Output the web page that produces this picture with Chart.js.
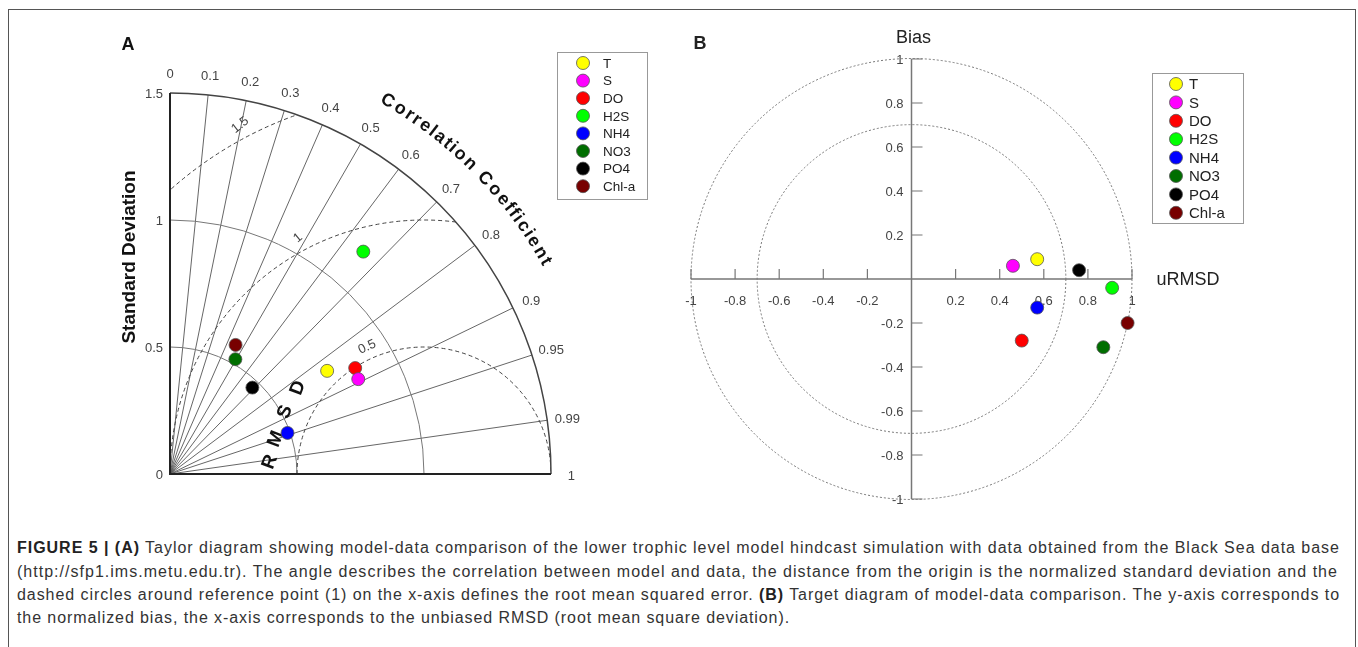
<!DOCTYPE html>
<html>
<head>
<meta charset="utf-8">
<script src="https://cdn.jsdelivr.net/npm/chart.js@4"></script>
<style>
  body { margin: 0; background: #fff; width: 1358px; height: 647px; overflow: hidden; position: relative; font-family: "Liberation Sans", Arial, sans-serif; }
  #frame { position: absolute; left: 8px; top: 9px; width: 1346px; height: 660px; border: 1.5px solid #555; }
  canvas { position: absolute; top: 0; }
  #chartA { left: 0; }
  #chartB { left: 660px; }
  .cap { position: absolute; left: 17px; white-space: nowrap; font-size: 16px; line-height: 18px; color: #333; }
  .cap b { color: #222; }
</style>
</head>
<body>
<div id="frame"></div>
<canvas id="chartA" width="660" height="520"></canvas>
<canvas id="chartB" width="698" height="520"></canvas>
<div class="cap" data-w="1323" style="top:539px"><b>FIGURE 5 | (A)</b> Taylor diagram showing model-data comparison of the lower trophic level model hindcast simulation with data obtained from the Black Sea data base</div>
<div class="cap" data-w="1321" style="top:563px">(http://sfp1.ims.metu.edu.tr). The angle describes the correlation between model and data, the distance from the origin is the normalized standard deviation and the</div>
<div class="cap" data-w="1323" style="top:586px">dashed circles around reference point (1) on the x-axis defines the root mean squared error. <b>(B)</b> Target diagram of model-data comparison. The y-axis corresponds to</div>
<div class="cap" data-w="773" style="top:609px">the normalized bias, the x-axis corresponds to the unbiased RMSD (root mean square deviation).</div>
<script>
// variables shown in both panels
const series = ["T", "S", "DO", "H2S", "NH4", "NO3", "PO4", "Chl-a"];
const colors = ["#ffff00", "#ff00ff", "#ff0000", "#00ff00", "#0000ff", "#006e00", "#000000", "#780000"];

// panel A: normalized standard deviation and correlation
const taylorStd = [0.74, 0.83, 0.84, 1.16, 0.49, 0.52, 0.47, 0.57];
const taylorCorr = [0.836, 0.893, 0.868, 0.656, 0.944, 0.495, 0.69, 0.453];
const stdTicks = [0, 0.5, 1, 1.5];
const corrTicks = [0, 0.1, 0.2, 0.3, 0.4, 0.5, 0.6, 0.7, 0.8, 0.9, 0.95, 0.99, 1];
const rmsTicks = [0.5, 1, 1.5];

// panel B: unbiased RMSD and bias
const targetURMSD = [0.57, 0.46, 0.5, 0.91, 0.57, 0.87, 0.76, 0.98];
const targetBias = [0.09, 0.06, -0.28, -0.04, -0.13, -0.31, 0.04, -0.2];
const targetTicks = [-1, -0.8, -0.6, -0.4, -0.2, 0.2, 0.4, 0.6, 0.8, 1];
const targetCircles = [1, 0.7];

const FONT = '"Liberation Sans", Arial, sans-serif';

// stretch caption lines to the width they have in the figure
document.querySelectorAll(".cap").forEach((el) => {
  const w = el.getBoundingClientRect().width;
  const n = el.textContent.length;
  el.style.letterSpacing = ((+el.dataset.w - w) / n).toFixed(3) + "px";
});

function drawLegend(ctx, chart, box, rowH, dotX, textX, fontSize) {
  ctx.save();
  ctx.strokeStyle = "#999";
  ctx.lineWidth = 1;
  ctx.strokeRect(box[0] + 0.5, box[1] + 0.5, box[2] - box[0], box[3] - box[1]);
  ctx.font = fontSize + "px " + FONT;
  ctx.textBaseline = "middle";
  chart.data.datasets.forEach((ds, i) => {
    const y = box[1] + 11 + i * rowH;
    ctx.beginPath();
    ctx.arc(dotX, y, 6.5, 0, Math.PI * 2);
    ctx.fillStyle = ds.backgroundColor;
    ctx.fill();
    ctx.strokeStyle = "#555";
    ctx.lineWidth = 0.8;
    ctx.stroke();
    ctx.fillStyle = "#222";
    ctx.fillText(ds.label, textX, y + 1);
  });
  ctx.restore();
}

function arcText(ctx, text, cx, cy, r, startDeg, endDeg) {
  const chars = text.split("");
  const ws = chars.map((c) => ctx.measureText(c).width);
  const total = ws.reduce((a, b) => a + b, 0);
  let cum = 0;
  chars.forEach((c, i) => {
    const a = ((startDeg - ((cum + ws[i] / 2) / total) * (startDeg - endDeg)) * Math.PI) / 180;
    cum += ws[i];
    ctx.save();
    ctx.translate(cx + r * Math.cos(a), cy - r * Math.sin(a));
    ctx.rotate(Math.PI / 2 - a);
    ctx.fillText(c, 0, 0);
    ctx.restore();
  });
}

// Taylor diagram grid
const taylorGrid = {
  id: "taylorGrid",
  beforeDatasetsDraw(chart) {
    const ctx = chart.ctx;
    const xs = chart.scales.x, ys = chart.scales.y;
    const ox = xs.getPixelForValue(0), oy = ys.getPixelForValue(0);
    const k = xs.getPixelForValue(1) - ox;
    const R = 1.5 * k;
    ctx.save();

    // correlation rays
    ctx.strokeStyle = "#555";
    ctx.lineWidth = 0.9;
    corrTicks.slice(1, -1).forEach((c) => {
      const a = Math.acos(c);
      ctx.beginPath();
      ctx.moveTo(ox, oy);
      ctx.lineTo(ox + R * Math.cos(a), oy - R * Math.sin(a));
      ctx.stroke();
    });

    // std arcs
    ctx.strokeStyle = "#777";
    ctx.lineWidth = 1;
    stdTicks.slice(1, -1).forEach((s) => {
      ctx.beginPath();
      ctx.arc(ox, oy, s * k, -Math.PI / 2, 0);
      ctx.stroke();
    });

    // RMS circles around the reference point
    ctx.save();
    ctx.beginPath();
    ctx.moveTo(ox, oy);
    ctx.arc(ox, oy, R, -Math.PI / 2, 0);
    ctx.closePath();
    ctx.clip();
    ctx.setLineDash([4, 3]);
    ctx.strokeStyle = "#444";
    ctx.lineWidth = 1;
    const rx = xs.getPixelForValue(1);
    rmsTicks.forEach((r) => {
      ctx.beginPath();
      ctx.arc(rx, oy, r * k, Math.PI, Math.PI * 2);
      ctx.stroke();
    });
    ctx.restore();

    // outer arc and axes
    ctx.strokeStyle = "#444";
    ctx.lineWidth = 1.5;
    ctx.beginPath();
    ctx.arc(ox, oy, R, -Math.PI / 2, 0);
    ctx.stroke();
    ctx.strokeStyle = "#222";
    ctx.lineWidth = 2;
    ctx.beginPath();
    ctx.moveTo(ox, oy - R);
    ctx.lineTo(ox, oy);
    ctx.lineTo(ox + R, oy);
    ctx.stroke();

    // std labels
    ctx.fillStyle = "#444";
    ctx.font = "13px " + FONT;
    ctx.textAlign = "right";
    ctx.textBaseline = "middle";
    stdTicks.forEach((s) => ctx.fillText(String(s), ox - 7, ys.getPixelForValue(s) + 1));

    // correlation labels
    ctx.textAlign = "center";
    corrTicks.forEach((c) => {
      const a = Math.acos(c);
      ctx.fillText(String(c), ox + 1.58 * k * Math.cos(a), oy - 1.58 * k * Math.sin(a) + 2);
    });

    // RMS labels
    const rmsLab = [[0.776, 0.5, -25], [0.504, 0.929, -40], [0.276, 1.374, -38]];
    rmsTicks.forEach((r, i) => {
      ctx.save();
      ctx.translate(xs.getPixelForValue(rmsLab[i][0]), ys.getPixelForValue(rmsLab[i][1]));
      ctx.rotate((rmsLab[i][2] * Math.PI) / 180);
      ctx.fillText(String(r), 0, 0);
      ctx.restore();
    });

    // titles
    ctx.fillStyle = "#111";
    ctx.font = "bold 19px " + FONT;
    ctx.save();
    ctx.translate(130, 257);
    ctx.rotate(-Math.PI / 2);
    ctx.fillText("Standard Deviation", 0, 0);
    ctx.restore();

    ctx.font = "bold 18px " + FONT;
    arcText(ctx, "Correlation Coefficient", ox, oy, 1.7 * k, 60.8, 29.0);

    ctx.font = "bold 19px " + FONT;
    const rmsd = [["R", 0.394, 0.047], ["M", 0.417, 0.138], ["S", 0.453, 0.244], ["D", 0.504, 0.339]];
    rmsd.forEach(([c, u, v]) => {
      ctx.save();
      ctx.translate(xs.getPixelForValue(u), ys.getPixelForValue(v));
      ctx.rotate((-69 * Math.PI) / 180);
      ctx.fillText(c, 0, 0);
      ctx.restore();
    });

    ctx.font = "bold 18px " + FONT;
    ctx.fillText("A", 128, 45);
    ctx.restore();
  },
  afterDraw(chart) {
    drawLegend(chart.ctx, chart, [557, 52, 647, 199], 17.6, 583, 603, 13.5);
  },
};

// Target diagram grid
const targetGrid = {
  id: "targetGrid",
  beforeDatasetsDraw(chart) {
    const ctx = chart.ctx;
    const xs = chart.scales.x, ys = chart.scales.y;
    const ox = xs.getPixelForValue(0), oy = ys.getPixelForValue(0);
    const k = xs.getPixelForValue(1) - ox;
    ctx.save();

    ctx.strokeStyle = "#777";
    ctx.lineWidth = 1;
    ctx.setLineDash([2, 2]);
    targetCircles.forEach((r) => {
      ctx.beginPath();
      ctx.arc(ox, oy, r * k, 0, Math.PI * 2);
      ctx.stroke();
    });
    ctx.setLineDash([]);

    ctx.strokeStyle = "#777";
    ctx.lineWidth = 1.5;
    ctx.beginPath();
    ctx.moveTo(xs.getPixelForValue(-1), oy);
    ctx.lineTo(xs.getPixelForValue(1), oy);
    ctx.moveTo(ox, ys.getPixelForValue(1));
    ctx.lineTo(ox, ys.getPixelForValue(-1));
    ctx.stroke();

    ctx.lineWidth = 1.2;
    ctx.fillStyle = "#444";
    ctx.font = "13px " + FONT;
    targetTicks.forEach((t) => {
      const px = xs.getPixelForValue(t), py = ys.getPixelForValue(t);
      ctx.beginPath();
      ctx.moveTo(px, oy);
      ctx.lineTo(px, oy - 10);
      ctx.moveTo(ox, py);
      ctx.lineTo(ox + 11, py);
      ctx.stroke();
      ctx.textAlign = "center";
      ctx.textBaseline = "middle";
      ctx.fillText(String(t), px, oy + 22);
      ctx.textAlign = "right";
      ctx.fillText(String(t), ox - 8, py + 1);
    });

    ctx.fillStyle = "#222";
    ctx.font = "18px " + FONT;
    ctx.textAlign = "center";
    ctx.textBaseline = "middle";
    ctx.fillText("Bias", ox + 2, 38);
    ctx.fillText("uRMSD", 528, 280);
    ctx.font = "bold 18px " + FONT;
    ctx.fillText("B", 40, 44);
    ctx.restore();
  },
  afterDraw(chart) {
    drawLegend(chart.ctx, chart, [492, 73, 583, 223], 18.4, 516, 529, 15);
  },
};

function makeDatasets(xv, yv) {
  return series.map((s, i) => ({
    label: s,
    data: [{ x: xv[i], y: yv[i] }],
    backgroundColor: colors[i],
    borderColor: "#555",
    borderWidth: 0.8,
    pointRadius: 6.5,
    clip: false,
  }));
}

function baseOptions(padding, min, max) {
  return {
    responsive: false,
    animation: false,
    devicePixelRatio: 1,
    layout: { padding },
    scales: {
      x: { type: "linear", min, max, display: false },
      y: { type: "linear", min, max, display: false },
    },
    plugins: { legend: { display: false }, tooltip: { enabled: false } },
  };
}

const taylorX = taylorStd.map((s, i) => s * taylorCorr[i]);
const taylorY = taylorStd.map((s, i) => s * Math.sqrt(1 - taylorCorr[i] * taylorCorr[i]));

new Chart(document.getElementById("chartA"), {
  type: "scatter",
  data: { datasets: makeDatasets(taylorX, taylorY) },
  options: baseOptions({ left: 170, right: 109, top: 93, bottom: 46 }, 0, 1.5),
  plugins: [taylorGrid],
});

new Chart(document.getElementById("chartB"), {
  type: "scatter",
  data: { datasets: makeDatasets(targetURMSD, targetBias) },
  options: baseOptions({ left: 31, right: 226, top: 59, bottom: 21 }, -1, 1),
  plugins: [targetGrid],
});
</script>
</body>
</html>
